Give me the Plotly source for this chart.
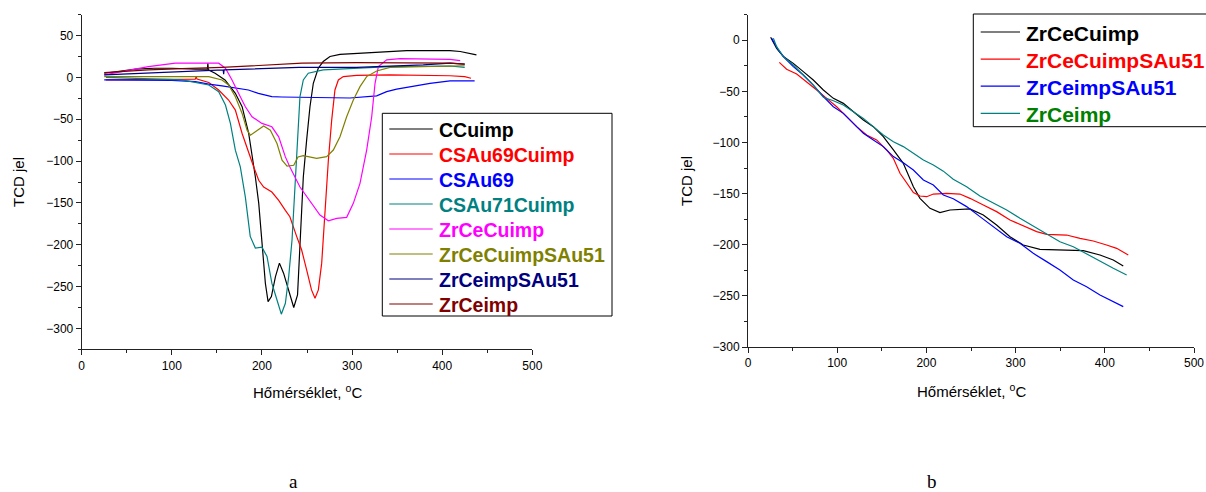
import plotly.graph_objects as go

# ---------------- data: panel a ----------------
ccuimp_x = [25, 40, 60, 80, 100, 126, 139.5, 140, 140.5, 148, 159, 170.5, 178, 185.3, 189, 192.7, 196.4, 200, 203.8, 206.8, 210.5, 215, 219.4, 224, 227.9, 231.6, 235.3, 239.5, 242.2, 245.9, 249.6, 253.3, 257, 262.5, 268, 275.5, 286.6, 323.6, 360.6, 408.7, 420, 438]
ccuimp_y = [5, 7, 10, 11, 11, 10, 10, 17, 9, 5, -3, -19, -35, -67, -91, -119, -150, -198, -246, -268, -262, -238, -222, -234, -248, -262, -275, -260, -198, -119, -75, -35, -7, 11, 19, 25, 27.6, 29.6, 32, 32, 31, 27]

csau69cuimp_x = [27, 60, 100, 126, 127, 128, 141, 152, 163, 170.5, 178, 185.3, 190.9, 196.4, 201.9, 211, 218.6, 226, 231, 238.5, 244, 249.6, 255, 258.9, 262.6, 266.3, 270, 273.7, 277.4, 281, 284.8, 290.3, 305, 342, 408.7, 425, 432]
csau69cuimp_y = [-3, -2.5, -2, -2, 1, -2, -6, -15, -27, -39, -67, -91, -107, -123, -131, -137, -147, -159, -166.5, -190, -206, -230, -254, -264, -254, -222, -158.5, -99, -51, -15, -3, 1, 2.5, 3, 2, 1, -1]

csau69_x = [25, 60, 100, 126, 141, 155.7, 174, 185, 196, 211, 222, 260, 297.7, 327.3, 338.4, 349.5, 371.7, 386.5, 408.7, 436]
csau69_y = [-3, -3, -3.5, -5, -8, -10, -13, -15, -19, -23, -23.4, -24, -24.6, -22, -17, -14, -10, -7, -4, -4]

csau71cuimp_x = [27, 60, 100, 111, 141, 152, 159.5, 165, 170.5, 176, 181.6, 187, 192.7, 200, 205.6, 211, 216.7, 221.5, 226, 229.7, 233.4, 237, 240.5, 242.2, 245.9, 251.4, 268, 305, 342, 408.7, 425]
csau71cuimp_y = [0, -1, -2, -3, -9, -17, -33, -55, -87, -107, -143, -190, -204, -203, -214, -246, -266, -283, -270, -238, -194, -127, -67, -23, -3, 5, 9, 11, 13, 13.7, 12]

zrcecuimp_x = [25, 55.8, 74, 104, 152, 159.5, 166.8, 174, 181.6, 189, 200, 211, 218.6, 226, 231, 242.2, 253.3, 264.4, 273.7, 282.9, 294, 301.4, 308.8, 316.2, 321.8, 325.5, 329.2, 338.4, 353.2, 408.7, 420]
zrcecuimp_y = [3, 9, 13, 17, 17, 11, -3, -19, -35, -47, -55, -59, -71, -95, -107, -131, -148.5, -164.5, -171.3, -168.5, -167.3, -150.5, -126.6, -86.8, -47, -7, 13, 21, 22.4, 21.6, 20]

zrcecuimpsau51_x = [25, 74, 111, 141, 155.7, 163, 170.5, 178, 183.5, 187.2, 192.7, 201.9, 209.3, 216.7, 222.3, 227.9, 235.3, 240, 245.9, 260.7, 271.8, 279.2, 286.6, 294, 301.4, 308.8, 316.2, 327.3, 342, 379, 408.7, 425]
zrcecuimpsau51_y = [1, 1, 1.7, 1, -3, -9, -23, -43, -63, -69, -65, -58, -63, -79, -99, -106, -105, -95, -93.5, -96.7, -94.7, -86.8, -70.8, -47, -27, -11, 1, 7.7, 12, 13, 13.7, 14]

zrceimpsau51_x = [25, 111, 157, 157.5, 158, 241, 305, 379, 408.7, 425]
zrceimpsau51_y = [3, 7, 9, 4, 9, 12, 12, 15, 17, 16]

zrceimp_x = [25, 74, 111, 155.7, 244.5, 305, 408.7, 425]
zrceimp_y = [5.7, 9, 10.5, 12, 17, 17.6, 17, 16]

# ---------------- data: panel b ----------------
b_zrcecuimp_x = [25.4, 32.1, 39.6, 50.8, 62, 73.2, 84.5, 95.7, 106.9, 118.1, 129.3, 140.5, 151.7, 163, 174.1, 185.4, 192.8, 204, 215.2, 226.5, 237.7, 248.8, 263.8, 278.7, 293.7, 308.6, 327.3, 346, 375.9, 394.6, 409.5, 420.7]
b_zrcecuimp_y = [2.9, -7.9, -16, -22.6, -30.7, -38.9, -48.6, -56.8, -61.7, -69.8, -78, -84.5, -94.3, -107.3, -120.4, -143.2, -154.6, -164.4, -168.6, -166, -165.3, -165, -170.9, -180.7, -192.1, -200.2, -204.5, -205.1, -205.8, -210, -214.9, -220.8]

b_zrcecuimpsau51_x = [35.1, 43.3, 54.6, 65.8, 77, 88.2, 99.4, 110.6, 121.8, 133, 144.2, 155.4, 162.9, 170.4, 177.9, 185.4, 192.8, 200.3, 207.8, 222.7, 237.6, 248.8, 263.8, 278.7, 293.7, 308.6, 323.6, 334.8, 357.2, 372.2, 387.1, 402, 413.3, 426.3]
b_zrcecuimpsau51_y = [-21.6, -28.4, -33, -40.5, -48.6, -56.8, -65, -74.7, -84.5, -92.7, -97.5, -107.3, -115.5, -130.1, -139.9, -149, -152.3, -153, -150.4, -149.7, -150.4, -154.6, -161.1, -167.6, -175.8, -181.6, -187.2, -189.8, -190.5, -193.7, -196.3, -200.2, -203.5, -210]

b_zrceimpsau51_x = [26.5, 34, 41.5, 50.8, 62, 73.2, 84.5, 95.7, 106.9, 118.1, 129.3, 140.5, 151.7, 163, 174.1, 185.4, 196.6, 207.8, 219, 230.1, 245.1, 260, 275, 290, 304.9, 319.8, 334.8, 349.7, 364.7, 379.6, 394.6, 409.5, 420.7]
b_zrceimpsau51_y = [1.9, -9.5, -17.7, -25.8, -34, -43.8, -55.2, -65, -71.5, -81.2, -91, -97.5, -104, -113.8, -119.7, -126.9, -136.7, -141.6, -151.3, -155, -162.7, -172.5, -182.3, -192.1, -198.6, -208.4, -216.5, -224.7, -234.5, -241, -249.1, -255.7, -260.5]

b_zrceimp_x = [28.4, 32.1, 39.6, 50.8, 62, 73.2, 84.5, 95.7, 106.9, 118.1, 129.3, 140.5, 151.7, 163, 174.1, 185.4, 196.6, 207.8, 219, 230.1, 245.1, 260, 275, 290, 304.9, 319.8, 334.8, 349.7, 364.7, 379.6, 394.6, 409.5, 424.5]
b_zrceimp_y = [1.9, -6.3, -16, -24.2, -34, -43.8, -55.8, -59.1, -63.3, -69.8, -76.4, -84.5, -92.7, -99.2, -104, -110.6, -117.1, -122, -128, -136, -143.2, -152.3, -159.5, -166, -174.1, -181.6, -188.8, -197, -201.9, -209, -216.5, -223, -229.6]

x_title = "Hőmérséklet, <sup>o</sup>C"
y_title = "TCD jel"
panel_labels = ["a", "b"]

FONT = "Liberation Sans, Arial, sans-serif"
SERIF = "Liberation Serif, Times New Roman, serif"

# (name, x, y, line colour, legend text colour)
series_a = [
    ("CCuimp", ccuimp_x, ccuimp_y, "#000000", "#000000"),
    ("CSAu69Cuimp", csau69cuimp_x, csau69cuimp_y, "#ff0000", "#ff0000"),
    ("CSAu69", csau69_x, csau69_y, "#0000ff", "#0000ff"),
    ("CSAu71Cuimp", csau71cuimp_x, csau71cuimp_y, "#008080", "#008080"),
    ("ZrCeCuimp", zrcecuimp_x, zrcecuimp_y, "#ff00ff", "#ff00ff"),
    ("ZrCeCuimpSAu51", zrcecuimpsau51_x, zrcecuimpsau51_y, "#808000", "#808000"),
    ("ZrCeimpSAu51", zrceimpsau51_x, zrceimpsau51_y, "#000080", "#000080"),
    ("ZrCeimp", zrceimp_x, zrceimp_y, "#800000", "#800000"),
]
series_b = [
    ("ZrCeCuimp", b_zrcecuimp_x, b_zrcecuimp_y, "#000000", "#000000"),
    ("ZrCeCuimpSAu51", b_zrcecuimpsau51_x, b_zrcecuimpsau51_y, "#ff0000", "#ff0000"),
    ("ZrCeimpSAu51", b_zrceimpsau51_x, b_zrceimpsau51_y, "#0000ff", "#0000ff"),
    ("ZrCeimp", b_zrceimp_x, b_zrceimp_y, "#008080", "#008000"),
]

W, H = 1206, 492


def px_x(p):
    return p / W


def px_y(p):
    return 1 - p / H


fig = go.Figure()
for name, xs, ys, lc, tc in series_a:
    fig.add_trace(go.Scatter(x=xs, y=ys, mode="lines", xaxis="x", yaxis="y",
                             line=dict(color=lc, width=1.2), name=name, showlegend=False))
for name, xs, ys, lc, tc in series_b:
    fig.add_trace(go.Scatter(x=xs, y=ys, mode="lines", xaxis="x2", yaxis="y2",
                             line=dict(color=lc, width=1.2), name=name, showlegend=False))

axis_common = dict(showline=True, linecolor="#222222", linewidth=1, mirror=False,
                   ticks="outside", ticklen=5, tickwidth=1, tickcolor="#222222",
                   showgrid=False, zeroline=False,
                   tickfont=dict(family=FONT, size=12, color="#000000"))
minor_x = dict(dtick=50, ticks="outside", ticklen=3, tickcolor="#222222")
minor_y = dict(dtick=25, ticks="outside", ticklen=3, tickcolor="#222222")

fig.update_layout(
    width=W, height=H,
    margin=dict(l=0, r=0, t=0, b=0, autoexpand=False),
    paper_bgcolor="white", plot_bgcolor="white",
    font=dict(family=FONT, color="#000000"),
    showlegend=False,
    xaxis=dict(domain=[px_x(81.7), px_x(532.3)], range=[0, 500], anchor="y",
               tick0=0, dtick=100, minor=minor_x, **axis_common),
    yaxis=dict(domain=[px_y(349.3), px_y(14.7)], range=[-325, 75], anchor="x",
               tick0=0, dtick=50, minor=minor_y, **axis_common),
    xaxis2=dict(domain=[px_x(748), px_x(1194)], range=[0, 500], anchor="y2",
                tick0=0, dtick=100, minor=minor_x, **axis_common),
    yaxis2=dict(domain=[px_y(347), px_y(14.7)], range=[-300, 25], anchor="x2",
                tick0=0, dtick=50, minor=minor_y, **axis_common),
)

shapes = []
annotations = []


def add_legend(series, box, row0, row_step, line_x0, line_x1, text_x, font_size):
    bx0, bx1, by0, by1 = box
    shapes.append(dict(type="rect", xref="paper", yref="paper",
                       x0=px_x(bx0), x1=px_x(bx1), y0=px_y(by1), y1=px_y(by0),
                       line=dict(color="#000000", width=1), fillcolor="white", layer="above"))
    for i, (name, xs, ys, lc, tc) in enumerate(series):
        yy = row0 + row_step * i
        shapes.append(dict(type="line", xref="paper", yref="paper",
                           x0=px_x(line_x0), x1=px_x(line_x1), y0=px_y(yy), y1=px_y(yy),
                           line=dict(color=lc, width=1.2), layer="above"))
        annotations.append(dict(text=f"<b>{name}</b>", x=px_x(text_x), y=px_y(yy + 1),
                                xref="paper", yref="paper", showarrow=False,
                                xanchor="left", yanchor="middle",
                                font=dict(family=FONT, size=font_size, color=tc)))


add_legend(series_a, (382.3, 612, 113.3, 316), 129, 25.0, 389.3, 432.7, 436.5, 19.5)
add_legend(series_b, (973.3, 1230, 14, 126.7), 32, 27.1, 980.7, 1020, 1024, 21)

annotations += [
    dict(text=x_title, x=px_x(307), y=px_y(391), xref="paper", yref="paper",
         showarrow=False, font=dict(family=FONT, size=15), xanchor="center", yanchor="middle"),
    dict(text=x_title, x=px_x(971), y=px_y(390), xref="paper", yref="paper",
         showarrow=False, font=dict(family=FONT, size=15), xanchor="center", yanchor="middle"),
    dict(text=y_title, x=px_x(19), y=px_y(182), xref="paper", yref="paper", textangle=-90,
         showarrow=False, font=dict(family=FONT, size=15), xanchor="center", yanchor="middle"),
    dict(text=y_title, x=px_x(686), y=px_y(181), xref="paper", yref="paper", textangle=-90,
         showarrow=False, font=dict(family=FONT, size=15), xanchor="center", yanchor="middle"),
    dict(text=panel_labels[0], x=px_x(293), y=px_y(481), xref="paper", yref="paper",
         showarrow=False, font=dict(family=SERIF, size=19), xanchor="center", yanchor="middle"),
    dict(text=panel_labels[1], x=px_x(932), y=px_y(481), xref="paper", yref="paper",
         showarrow=False, font=dict(family=SERIF, size=19), xanchor="center", yanchor="middle"),
]
fig.update_layout(shapes=shapes, annotations=annotations)

fig.write_html("out.html", config={"displayModeBar": False},
               post_script="document.body.style.margin='0';document.body.style.overflow='hidden';")
